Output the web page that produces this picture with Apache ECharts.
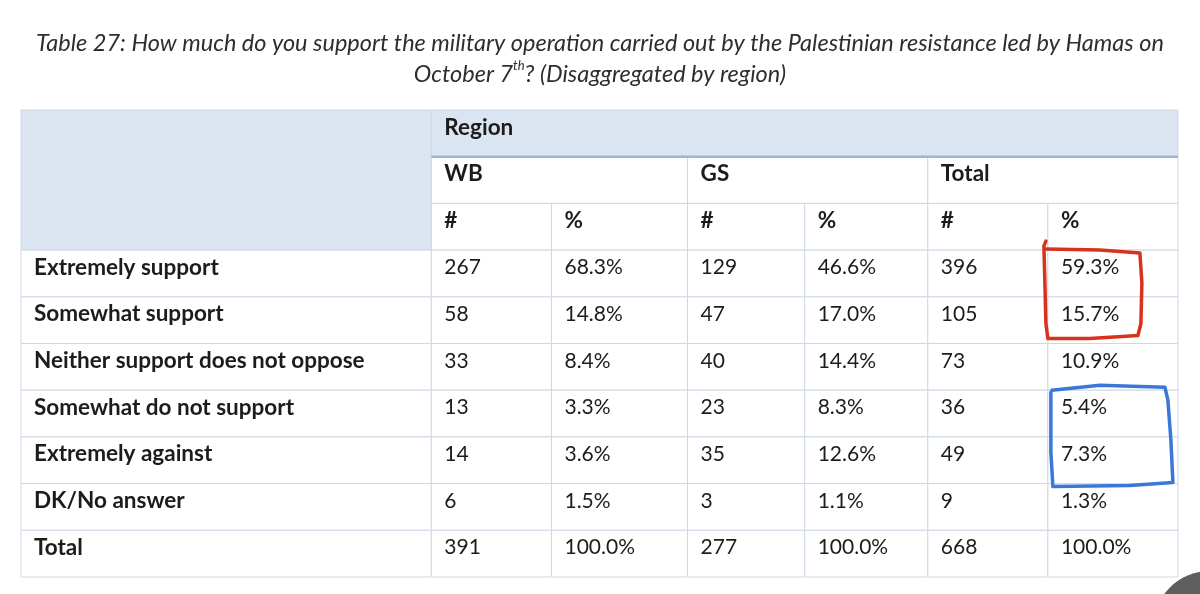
<!DOCTYPE html>
<html><head><meta charset="utf-8">
<script src="https://cdn.jsdelivr.net/npm/echarts@6.0.0/dist/echarts.min.js"></script>
<style>html,body{margin:0;padding:0;background:#fff}#c{width:1200px;height:594px}</style>
</head><body><div id="c"></div>
<script>
// ---------- data ----------
const titleLine1 = 'Table 27: How much do you support the military operation carried out by the Palestinian resistance led by Hamas on';
const titleLine2Pre = 'October 7';
const titleLine2Sup = 'th';
const titleLine2Post = '? (Disaggregated by region)';
const groupTitle = 'Region';
const regions = ['WB', 'GS', 'Total'];
const subHeaders = ['#', '%'];
const categories = ['Extremely support', 'Somewhat support', 'Neither support does not oppose', 'Somewhat do not support', 'Extremely against', 'DK/No answer', 'Total'];
const wbCount = [267, 58, 33, 13, 14, 6, 391];
const wbPct = [68.3, 14.8, 8.4, 3.3, 3.6, 1.5, 100.0];
const gsCount = [129, 47, 40, 23, 35, 3, 277];
const gsPct = [46.6, 17.0, 14.4, 8.3, 12.6, 1.1, 100.0];
const totCount = [396, 105, 73, 36, 49, 9, 668];
const totPct = [59.3, 15.7, 10.9, 5.4, 7.3, 1.3, 100.0];
// highlighted groups (column index of Total %, first and last category row)
const highlightRed = [5, 0, 1];
const highlightBlue = [5, 3, 4];

// ---------- layout / style ----------
const colWidths = [410, 120, 136, 117, 123, 120, 130];
const edges = [0];
colWidths.forEach(w => edges.push(edges[edges.length - 1] + w));
const HEADER_ROWS = 3;
const rowNames = ['h0', 'h1', 'h2'].concat(categories);
const FONT = 'Lato, "Open Sans", sans-serif';
const HEAD_FILL = '#dbe5f1';
const GRID_LINE = '#cdd8e5';
const TEXT = '#1c1c1c';

// ---------- build cells from data ----------
const cells = [];
cells.push({c0: 0, c1: 1, r0: 0, r1: 3, text: '', kind: 'corner'});
cells.push({c0: 1, c1: 7, r0: 0, r1: 1, text: groupTitle, kind: 'group'});
regions.forEach((g, i) => {
  cells.push({c0: 1 + 2 * i, c1: 3 + 2 * i, r0: 1, r1: 2, text: g, kind: 'head'});
  subHeaders.forEach((s, j) => cells.push({c0: 1 + 2 * i + j, c1: 2 + 2 * i + j, r0: 2, r1: 3, text: s, kind: 'head'}));
});
const valueCols = [wbCount, wbPct, gsCount, gsPct, totCount, totPct];
categories.forEach((cat, r) => {
  cells.push({c0: 0, c1: 1, r0: HEADER_ROWS + r, r1: HEADER_ROWS + r + 1, text: cat, kind: 'label'});
  valueCols.forEach((arr, k) => {
    const isPct = k % 2 === 1;
    cells.push({c0: 1 + k, c1: 2 + k, r0: HEADER_ROWS + r, r1: HEADER_ROWS + r + 1,
      text: isPct ? arr[r].toFixed(1) + '%' : String(arr[r]), kind: 'value'});
  });
});

function cellBox(api, c0, c1, r0, r1) {
  const h = api.size([0, 1])[1];
  const x0 = api.coord([edges[c0], r0])[0];
  const x1 = api.coord([edges[c1], r0])[0];
  const yTop = api.coord([0, r0])[1] - h / 2;
  const yBot = api.coord([0, r1 - 1])[1] + h / 2;
  return {x0, x1, yTop, yBot, h};
}

const annotations = [
  {cell: highlightRed, color: '#d8321e',
   pts: [['l', -2, 't', -9], ['l', -4, 't', -4], ['l', -3, 't', 33], ['l', -2, 'b', -20], ['l', 0, 'b', -5], ['l', 42, 'b', -5], ['l', 90, 'b', -8], ['l', 93, 'b', -20], ['l', 94, 't', 33], ['l', 92, 't', 3], ['l', 52, 't', 0], ['l', -2, 't', -1]]},
  {cell: highlightBlue, color: '#3a77d6',
   pts: [['l', 4, 't', 0], ['l', 52, 't', -5], ['l', 117, 't', -3], ['l', 120, 't', 10], ['l', 123, 't', 50], ['l', 125, 'b', -1], ['l', 82, 'b', 2], ['l', 5, 'b', 3], ['l', 3, 'b', -31], ['l', 3, 't', 2]]}
];

const chart = echarts.init(document.getElementById('c'));
chart.setOption({
  backgroundColor: '#ffffff',
  animation: false,
  title: {
    left: 'center', top: 23,
    text: '{t|' + titleLine1 + '}\n{t|' + titleLine2Pre + '}{s|' + titleLine2Sup + '}{t|' + titleLine2Post + '}',
    textStyle: {
      fontWeight: 'normal',
      rich: {
        t: {fontFamily: FONT, fontStyle: 'italic', fontWeight: 'normal', fontSize: 23.5, color: '#2e2e2e', lineHeight: 31},
        s: {fontFamily: FONT, fontStyle: 'italic', fontWeight: 'normal', fontSize: 13, color: '#2e2e2e', lineHeight: 31, verticalAlign: 'top', padding: [0, 0, 10, 0]}
      }
    }
  },
  grid: {left: 21, right: 22, top: 110, bottom: 17},
  xAxis: {type: 'value', min: 0, max: edges[edges.length - 1], show: false},
  yAxis: {type: 'category', data: rowNames, inverse: true, show: false},
  graphic: [{type: 'circle', shape: {cx: 1210, cy: 628, r: 57}, style: {fill: '#5e5e5e'}, z: 100}],
  series: [{
    type: 'custom',
    encode: {x: [0, 1], y: [2, 3]},
    data: cells.map(c => [edges[c.c0], edges[c.c1], c.r0, c.r1]),
    renderItem: function (params, api) {
      const c = cells[params.dataIndex];
      const b = cellBox(api, c.c0, c.c1, c.r0, c.r1);
      const fill = (c.kind === 'corner' || c.kind === 'group') ? HEAD_FILL : '#ffffff';
      const children = [{
        type: 'rect', z2: 1,
        shape: {x: b.x0, y: b.yTop, width: b.x1 - b.x0, height: b.yBot - b.yTop},
        style: {fill: fill, stroke: GRID_LINE, lineWidth: 1}
      }];
      if (c.text) {
        const bold = c.kind !== 'value';
        children.push({
          type: 'text', z2: 5,
          style: {
            text: c.text, x: b.x0 + 13, y: b.yTop + b.h * 0.37,
            align: 'left', verticalAlign: 'middle',
            fontFamily: FONT, fontSize: bold ? 22.5 : 21,
            fontWeight: bold ? 'bold' : 'normal',
            fill: TEXT
          }
        });
      }
      if (c.kind === 'group') {
        children.push({type: 'line', z2: 10,
          shape: {x1: b.x0, y1: b.yBot, x2: b.x1, y2: b.yBot},
          style: {stroke: '#9ab8dc', lineWidth: 2.5}});
      }
      return {type: 'group', children: children};
    }
  }, {
    type: 'custom',
    z: 5,
    encode: {x: 0, y: 1},
    data: annotations.map(a => [edges[a.cell[0]], HEADER_ROWS + a.cell[1], HEADER_ROWS + a.cell[2]]),
    renderItem: function (params, api) {
      const a = annotations[params.dataIndex];
      const col = a.cell[0] + 1;
      const b = cellBox(api, col, col + 1, HEADER_ROWS + a.cell[1], HEADER_ROWS + a.cell[2] + 1);
      const points = a.pts.map(p => [b.x0 + p[1], (p[2] === 't' ? b.yTop : b.yBot) + p[3]]);
      return {type: 'polyline', shape: {points: points},
        style: {stroke: a.color, lineWidth: 3.5, fill: 'none', lineJoin: 'round', lineCap: 'round'}};
    }
  }]
});
</script></body></html>
